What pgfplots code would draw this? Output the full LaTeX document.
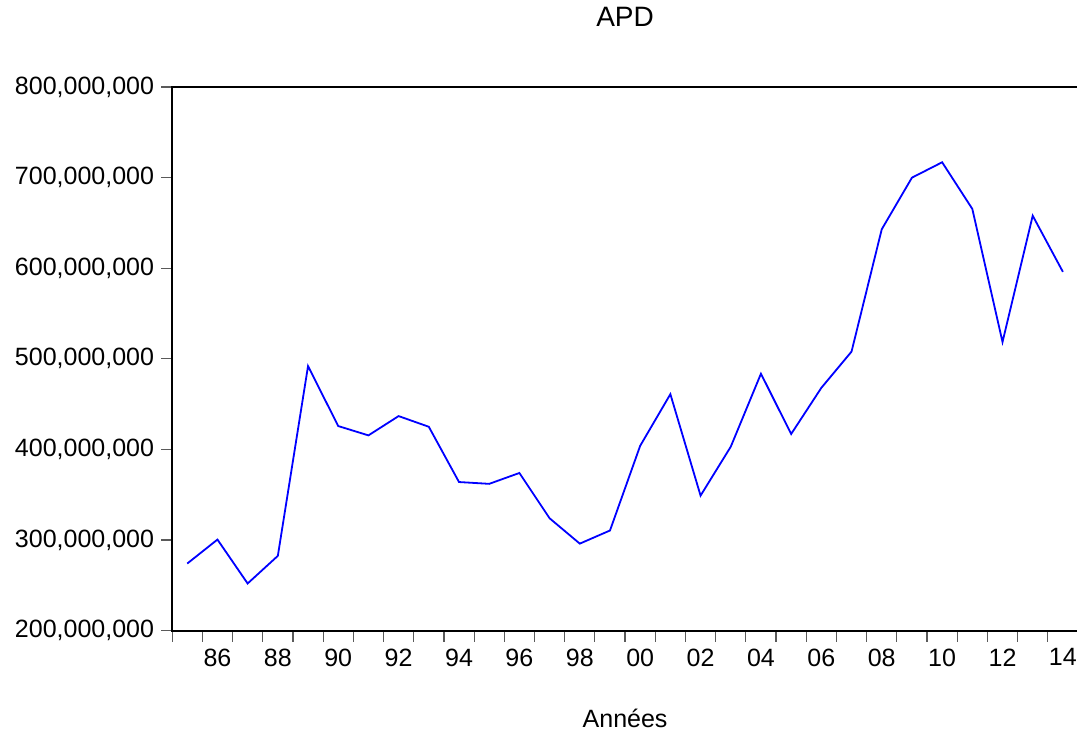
\documentclass[border=0pt]{standalone}
\usepackage{fontspec}
\setmainfont{Liberation Sans}
\usepackage{pgfplots}
\pgfplotsset{compat=1.18}
\definecolor{eblue}{RGB}{0,0,255}
\definecolor{tickgray}{RGB}{90,90,90}
\begin{document}
\begin{tikzpicture}
\useasboundingbox (-86pt,-50pt) rectangle (452pt,315pt);
\begin{axis}[
  at={(0,0)}, anchor=south west,
  scale only axis,
  width=452.5pt, height=271.5pt,
  xmin=1984.5, xmax=2014.5,
  ymin=200, ymax=800,
  axis line style={line width=1pt, black},
  tick align=outside,
  tick pos=left,
  major tick length=5.5pt,
  tick style={tickgray, line width=0.6pt},
  xtick={1984.5,1985.5,...,2013.5},
  xticklabels={},
  extra x ticks={1986,1988,...,2014},
  extra x tick labels={86,88,90,92,94,96,98,00,02,04,06,08,10,12,14},
  extra x tick style={major tick length=0pt, tick label style={yshift=-5.5pt}},
  ytick={200,300,...,800},
  yticklabels={{200,000,000},{300,000,000},{400,000,000},{500,000,000},{600,000,000},{700,000,000},{800,000,000}},
  /pgf/number format/assume math mode=true,
  tick label style={font=\fontsize{12.5}{15}\selectfont, black},
  title={APD},
  title style={font=\fontsize{14}{17}\selectfont, at={(axis description cs:0.5,1)}, anchor=base, yshift=24.5pt, inner sep=0pt},
  xlabel={Années},
  xlabel style={font=\fontsize{12.5}{15}\selectfont, at={(axis description cs:0.5,0)}, anchor=base, yshift=-48.5pt, inner sep=0pt},
  clip=false,
]
\addplot[eblue, line width=0.9pt] coordinates {
(1985,274) (1986,300.5) (1987,252) (1988,282.5) (1989,492) (1990,425.8)
(1991,415.5) (1992,436.8) (1993,425) (1994,364) (1995,362) (1996,374)
(1997,324) (1998,296) (1999,310.5) (2000,404) (2001,461) (2002,349)
(2003,403) (2004,483.6) (2005,417) (2006,468) (2007,508) (2008,643)
(2009,700) (2010,717) (2011,665.5) (2012,518.6) (2013,658) (2014,596)
};
\end{axis}
\end{tikzpicture}
\end{document}
